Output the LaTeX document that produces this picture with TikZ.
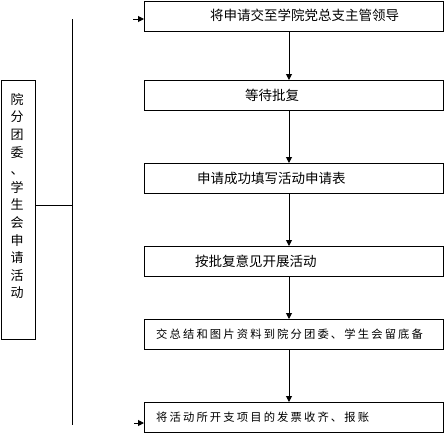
\documentclass[tikz,border=0pt]{standalone}
\usepackage{fontspec}
\newfontfamily\cjk{Noto Sans CJK SC}
\usetikzlibrary{arrows.meta}
\begin{document}
\begin{tikzpicture}[x=1pt,y=-1pt,
  stepbox/.style={draw=black,line width=1pt,minimum width=299pt,minimum height=30pt,inner sep=0pt,anchor=north west},
  txt/.style={anchor=west,inner sep=0pt,font=\cjk\fontsize{13.5}{16}\selectfont},
  stxt/.style={anchor=west,inner sep=0pt,font=\cjk\fontsize{11.3}{14}\selectfont\addfontfeature{LetterSpace=19}},
  arr/.style={line width=1pt,-{Triangle[length=6pt,width=6pt]}},
  ln/.style={line width=1pt}]
\useasboundingbox (0,0) rectangle (445,434);
\node[stepbox] (B1) at (144,0.5) {};
\node[stepbox] (B2) at (144,80) {};
\node[stepbox] (B3) at (144,163) {};
\node[stepbox] (B4) at (144,246) {};
\node[stepbox] (B5) at (144,319) {};
\node[stepbox] (B6) at (144,402) {};
\node[draw=black,line width=1pt,minimum width=34pt,minimum height=259pt,inner sep=0pt,anchor=north west] (L) at (1,80) {};
\node[txt] (T1) at (210,15) {将申请交至学院党总支主管领导};
\node[txt] (T2) at (245,95) {等待批复};
\node[txt] (T3) at (197,178) {申请成功填写活动申请表};
\node[txt] (T4) at (195,261) {按批复意见开展活动};
\node[stxt] (T5) at (156,334) {交总结和图片资料到院分团委、学生会留底备};
\node[stxt] (T6) at (156,417) {将活动所开支项目的发票收齐、报账};
\node[anchor=north,inner sep=0pt,align=center,font=\cjk\fontsize{13}{17.6}\selectfont] (LT) at (17,93)
  {院\\分\\团\\委\\、\\学\\生\\会\\申\\请\\活\\动};
\coordinate (X) at (289,0);
\draw[arr] (B1.south -| X) -- (B2.north -| X);
\draw[arr] (B2.south -| X) -- (B3.north -| X);
\draw[arr] (B3.south -| X) -- (B4.north -| X);
\draw[arr] (B4.south -| X) -- (B5.north -| X);
\draw[arr] (B5.south -| X) -- (B6.north -| X);
\coordinate (VT) at (72,19);
\coordinate (VB) at (72,425);
\coordinate (H) at (72,205);
\draw[ln] (VT) -- (VB);
\draw[ln] (L.east |- H) -- (H);
\coordinate (A1) at (133,19);
\coordinate (A2) at (134,423);
\draw[arr] (A1) -- (A1 -| B1.west);
\draw[arr] (A2) -- (A2 -| B6.west);
\end{tikzpicture}
\end{document}
